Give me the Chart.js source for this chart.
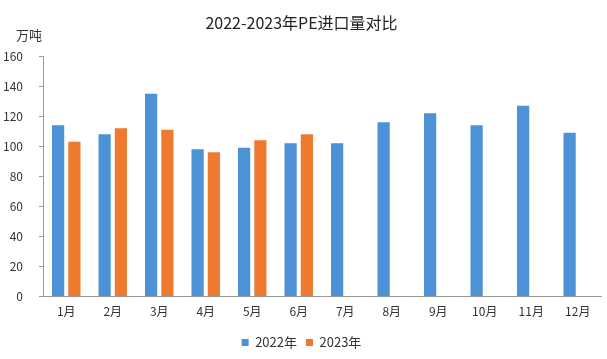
<!DOCTYPE html>
<html>
<head>
<meta charset="utf-8">
<script src="https://cdn.jsdelivr.net/npm/chart.js@4"></script>
<style>
  html, body { margin: 0; padding: 0; background: #fff; }
  #wrap { width: 607px; height: 359px; position: relative; }
</style>
</head>
<body>
<div id="wrap"><canvas id="peChart"></canvas></div>
<script>
// PE进口量 (万吨)
const months = ['1月', '2月', '3月', '4月', '5月', '6月', '7月', '8月', '9月', '10月', '11月', '12月'];
const data2022 = [114, 108, 135, 98, 99, 102, 102, 116, 122, 114, 127, 109];
const data2023 = [103, 112, 111, 96, 104, 108, null, null, null, null, null, null];
const yTicks = [0, 20, 40, 60, 80, 100, 120, 140, 160];

const fontFamily = '"Noto Sans CJK SC", "Noto Sans", sans-serif';

// 左上角的单位 "万吨"
const unitLabel = {
    id: 'unitLabel',
    afterDraw(chart) {
        const ctx = chart.ctx;
        const y = chart.scales.y;
        ctx.save();
        ctx.font = '13px ' + fontFamily;
        ctx.fillStyle = '#333';
        ctx.textAlign = 'left';
        ctx.textBaseline = 'middle';
        ctx.fillText('万吨', 16, y.top - 21);
        ctx.restore();
    }
};

new Chart(document.getElementById('peChart'), {
    type: 'bar',
    data: {
        labels: months,
        datasets: [
            { label: '2022年', data: data2022, backgroundColor: '#4d91d6' },
            { label: '2023年', data: data2023, backgroundColor: '#ee7a30' }
        ]
    },
    options: {
        responsive: true,
        maintainAspectRatio: false,
        animation: false,
        categoryPercentage: 0.7,
        barPercentage: 0.75,
        layout: { padding: { left: 2, right: 6, top: 0, bottom: 0 } },
        plugins: {
            title: {
                display: true,
                text: '2022-2023年PE进口量对比',
                color: '#222',
                font: { family: fontFamily, size: 16, weight: 'normal' },
                padding: { top: 13, bottom: 24 }
            },
            legend: {
                position: 'bottom',
                labels: {
                    boxWidth: 7,
                    boxHeight: 7,
                    padding: 9,
                    color: '#333',
                    font: { family: fontFamily, size: 13 }
                }
            },
            tooltip: { enabled: false }
        },
        scales: {
            x: {
                grid: { display: false, drawTicks: false },
                border: { color: '#999', width: 1 },
                ticks: {
                    color: '#333',
                    padding: 8,
                    font: { family: fontFamily, size: 12 }
                }
            },
            y: {
                min: 0,
                max: 160,
                afterBuildTicks(axis) {
                    axis.ticks = yTicks.map(v => ({ value: v }));
                },
                afterFit(axis) {
                    axis.width = 41;
                },
                grid: { drawOnChartArea: false, tickLength: 4, color: '#999' },
                border: { color: '#999', width: 1 },
                ticks: {
                    color: '#333',
                    padding: 16,
                    font: { family: fontFamily, size: 12 }
                }
            }
        }
    },
    plugins: [unitLabel]
});
</script>
</body>
</html>
